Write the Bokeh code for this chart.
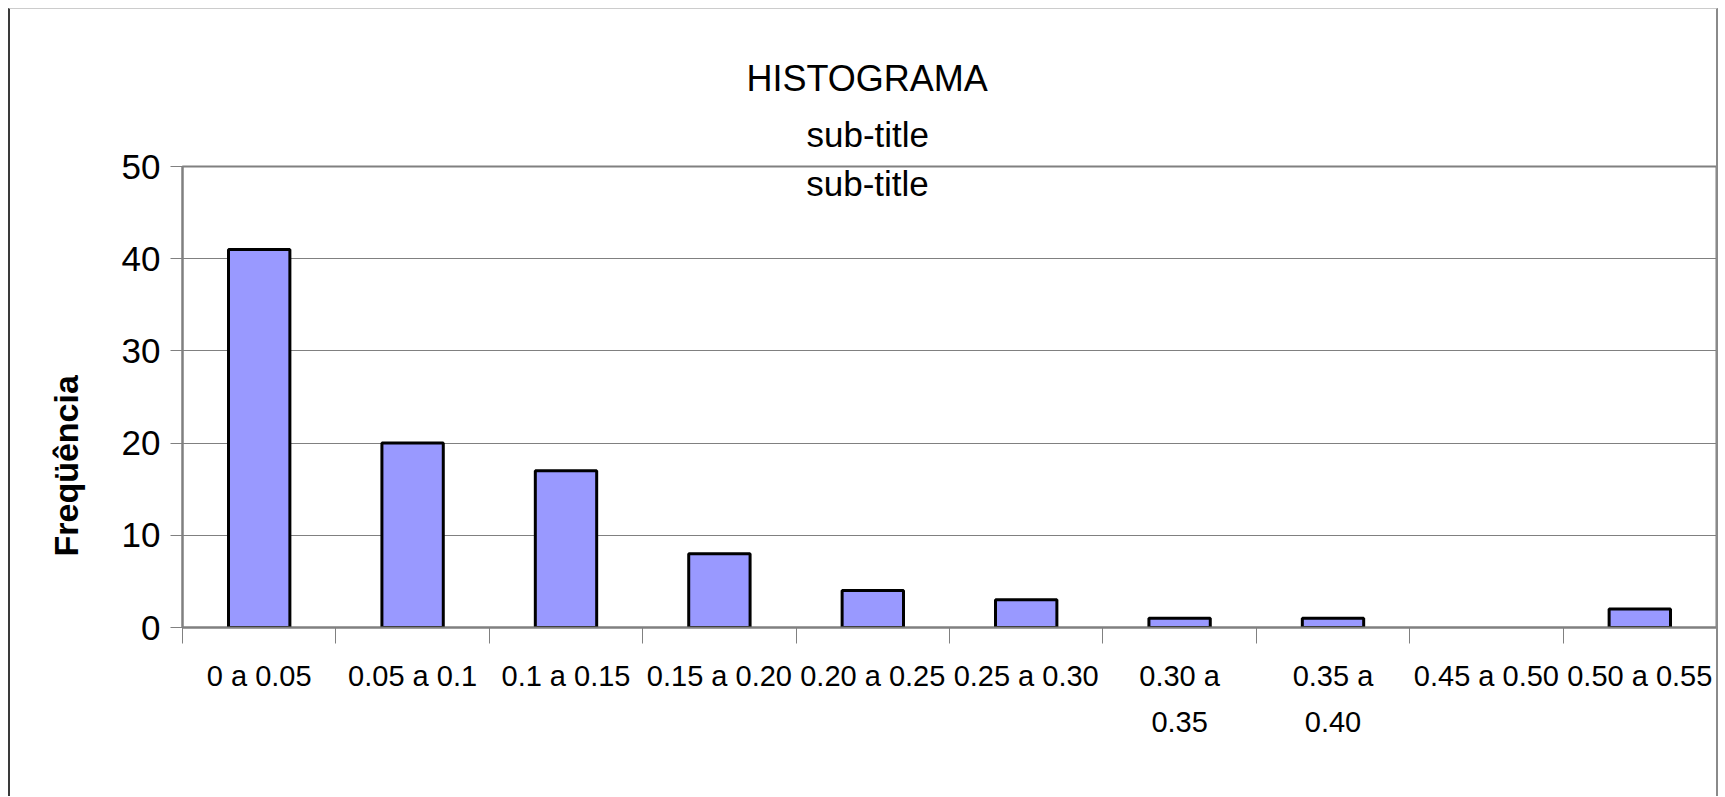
from bokeh.plotting import figure
from bokeh.models import (Range1d, LinearAxis, FixedTicker, Label, Title, ColumnDataSource)
from bokeh.embed import file_html
from bokeh.resources import INLINE

# ---- data ----
categories = ["0 a 0.05", "0.05 a 0.1", "0.1 a 0.15", "0.15 a 0.20", "0.20 a 0.25",
              "0.25 a 0.30", "0.30 a 0.35", "0.35 a 0.40", "0.45 a 0.50", "0.50 a 0.55"]
frequencies = [41, 20, 17, 8, 4, 3, 1, 1, 0, 2]
y_ticks = [0, 10, 20, 30, 40, 50]
wrapped_labels = {"0.30 a 0.35": "0.30 a\n0.35", "0.35 a 0.40": "0.35 a\n0.40"}
title_lines = ["HISTOGRAMA", "sub-title", "sub-title"]
y_label = "Freqüência"

FONT = "Liberation Sans"
GRAY = "#808080"

n = len(categories)
centers = [i + 0.5 for i in range(n)]
edges = list(range(n + 1))

p = figure(width=1710, height=788,
           x_range=Range1d(0, n),
           y_range=Range1d(0, 50),
           x_axis_location=None,
           output_backend="svg", toolbar_location=None,
           min_border_left=170, min_border_right=4,
           min_border_top=157, min_border_bottom=170,
           styles={"margin-left": "8px", "margin-top": "8px",
                   "border-left": "2px solid #3a3a3a",
                   "border-right": "2px solid #8a8a8a",
                   "border-top": "1px solid #cccccc"})
p.background_fill_color = "white"
p.border_fill_color = "white"
p.outline_line_color = GRAY
p.outline_line_width = 2

# bars
src = ColumnDataSource(dict(
    x=centers, cat=categories, freq=frequencies,
    lc=["black" if v > 0 else None for v in frequencies]))
p.vbar(x="x", top="freq", width=0.4, source=src,
       fill_color="#9999FF", line_color="lc", line_width=3)

# grid
for g in p.xgrid:
    g.visible = False
p.ygrid.ticker = FixedTicker(ticks=y_ticks)
p.ygrid.grid_line_color = GRAY
p.ygrid.grid_line_width = 1

# y axis
p.yaxis.ticker = FixedTicker(ticks=y_ticks)
p.yaxis.major_tick_out = 12
p.yaxis.major_tick_in = 0
p.yaxis.minor_tick_line_color = None
p.yaxis.axis_line_color = GRAY
p.yaxis.axis_line_width = 2
p.yaxis.major_tick_line_color = GRAY
p.yaxis.major_label_text_font = FONT
p.yaxis.major_label_text_font_size = "35px"
p.yaxis.major_label_text_color = "black"
p.yaxis.major_label_standoff = 10

# x axis: boundary ticks
edge_axis = LinearAxis(ticker=FixedTicker(ticks=edges),
                       major_tick_out=16, major_tick_in=0,
                       minor_tick_line_color=None,
                       axis_line_color=GRAY, axis_line_width=2,
                       major_tick_line_color=GRAY, major_tick_line_width=1,
                       major_label_text_font_size="0px", major_label_standoff=0,
                       major_label_overrides={e: "" for e in edges})
p.add_layout(edge_axis, "below")

# x axis: category labels at bar centres
label_map = {c: wrapped_labels.get(cat, cat) for c, cat in zip(centers, categories)}
cat_axis = LinearAxis(ticker=FixedTicker(ticks=centers),
                      axis_line_color=None, major_tick_line_color=None,
                      minor_tick_line_color=None,
                      major_label_text_font=FONT,
                      major_label_text_font_size="29px",
                      major_label_text_color="black",
                      major_label_text_line_height=1.45,
                      major_label_standoff=10,
                      major_label_overrides=label_map)
p.add_layout(cat_axis, "below")

# title block: two lines above the frame, last line inside the frame
p.title.visible = False
p.add_layout(Title(text=title_lines[1], align="left", offset=624, standoff=25,
                   text_font=FONT, text_font_style="normal",
                   text_font_size="35px", text_color="black"), "above")
p.add_layout(Title(text=title_lines[0], align="left", offset=564, standoff=4,
                   text_font=FONT, text_font_style="normal",
                   text_font_size="36px", text_color="black"), "above")
p.add_layout(Label(x=685, y=444, x_units="screen", y_units="screen",
                   text=title_lines[2], text_align="center",
                   text_baseline="alphabetic", text_font=FONT,
                   text_font_size="35px", text_color="black"))

# y axis title
p.add_layout(Title(text=y_label, align="left", offset=71, standoff=68,
                   text_font=FONT, text_font_style="bold",
                   text_font_size="34px", text_color="black"), "left")

open("out.html", "w").write(file_html(p, INLINE))
